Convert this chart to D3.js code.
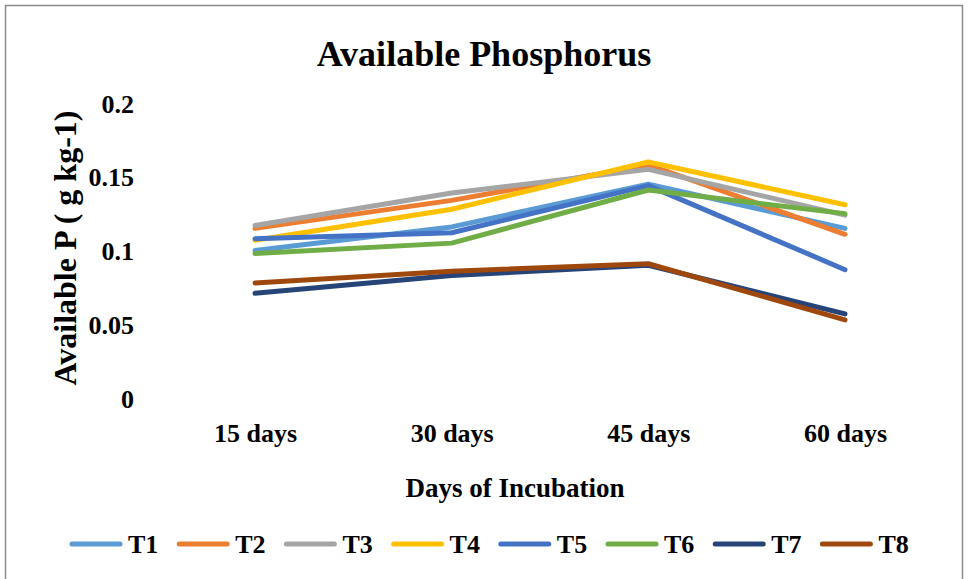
<!DOCTYPE html>
<html><head><meta charset="utf-8">
<script src="https://cdn.jsdelivr.net/npm/d3@7/dist/d3.min.js"></script>
<style>body{margin:0;background:#fff}svg{display:block}</style>
</head><body>
<svg id="c" width="969" height="579"></svg>
<script>
const categories = ["15 days","30 days","45 days","60 days"];
const seriesNames = ["T1","T2","T3","T4","T5","T6","T7","T8"];
const T1 = [0.100,0.116,0.145,0.115];
const T2 = [0.115,0.134,0.158,0.111];
const T3 = [0.117,0.139,0.155,0.124];
const T4 = [0.107,0.128,0.160,0.131];
const T5 = [0.108,0.112,0.144,0.087];
const T6 = [0.098,0.105,0.141,0.125];
const T7 = [0.071,0.083,0.090,0.057];
const T8 = [0.078,0.086,0.091,0.053];
const yTicks = [0,0.05,0.1,0.15,0.2];
const colors = ["#5B9BD5","#ED7D31","#A5A5A5","#FFC000","#4472C4","#70AD47","#264478","#9E480E"];
const seriesValues = [T1,T2,T3,T4,T5,T6,T7,T8];
const FONT = "'Liberation Serif', 'Times New Roman', serif";

const svg = d3.select("#c");
svg.append("rect").attr("x",5.5).attr("y",5.5).attr("width",957).attr("height",600)
  .attr("fill","#fff").attr("stroke","#8a8a8a").attr("stroke-width",1.5);

const x = d3.scalePoint().domain(categories).range([255,845]);
const y = d3.scaleLinear().domain([0,0.2]).range([398,103]);

function styleText(sel, size){
  sel.style("font-family",FONT).style("font-weight","bold").style("font-size",size).attr("fill","#000");
}

styleText(svg.append("text").attr("x",484).attr("y",66).attr("text-anchor","middle")
  .text("Available Phosphorus"), "36px");

const yAxis = svg.append("g").attr("transform","translate(134,0)")
  .call(d3.axisLeft(y).tickValues(yTicks).tickFormat(d=>d===0?"0":String(d)).tickSize(0).tickPadding(0));
yAxis.select(".domain").remove();
styleText(yAxis.selectAll("text").attr("dy","0.35em"), "26px");

const xAxis = svg.append("g").attr("transform","translate(0,424)")
  .call(d3.axisBottom(x).tickSize(0).tickPadding(0));
xAxis.select(".domain").remove();
styleText(xAxis.selectAll("text").attr("dy","0.7em"), "26px");

styleText(svg.append("text").attr("transform","translate(76,248) rotate(-90)").attr("text-anchor","middle")
  .text("Available P ( g kg-1)"), "32px");
styleText(svg.append("text").attr("x",515).attr("y",497).attr("text-anchor","middle")
  .text("Days of Incubation"), "27px");

const line = d3.line().x((d,i)=>x(categories[i])).y(d=>y(d));
seriesValues.forEach((vals,k)=>{
  svg.append("path").attr("d",line(vals)).attr("fill","none")
    .attr("stroke",colors[k]).attr("stroke-width",5).attr("stroke-linejoin","round").attr("stroke-linecap","round");
});

const lg = svg.append("g");
seriesNames.forEach((n,k)=>{
  const x0 = 72 + k*107.2;
  lg.append("line").attr("x1",x0).attr("x2",x0+48).attr("y1",544).attr("y2",544)
    .attr("stroke",colors[k]).attr("stroke-width",5).attr("stroke-linecap","round");
  styleText(lg.append("text").attr("x",x0+56).attr("y",553).text(n), "26px");
});
</script>
</body></html>
